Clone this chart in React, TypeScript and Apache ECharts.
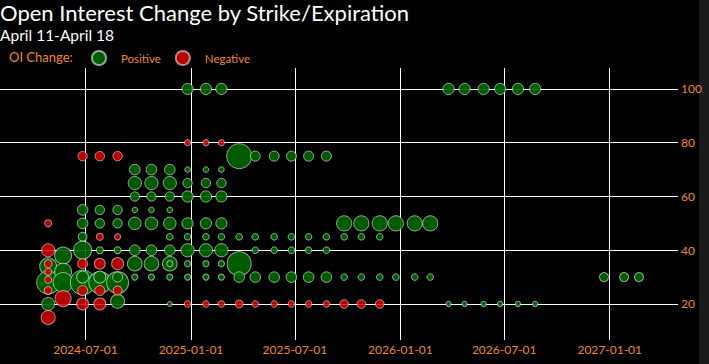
import React, { useEffect, useRef } from 'react';
import * as echarts from 'echarts';

// [expiration, strike, OI change]
const positive: [string, number, number][] = [
  ['2024-04-27', 34, 4600], ['2024-04-27', 28, 8500], ['2024-04-27', 20, 2700],
  ['2024-05-23', 38, 4600], ['2024-05-23', 32, 4600], ['2024-05-23', 28, 6400],
  ['2024-06-26', 55, 1800], ['2024-06-26', 50, 1800], ['2024-06-26', 45, 1300], ['2024-06-26', 40, 5200], ['2024-06-26', 28, 9800], ['2024-06-26', 30, 2300],
  ['2024-07-26', 55, 1400], ['2024-07-26', 50, 1400], ['2024-07-26', 40, 800], ['2024-07-26', 28, 7700], ['2024-07-26', 30, 2300],
  ['2024-08-26', 55, 1400], ['2024-08-26', 50, 1400], ['2024-08-26', 40, 800], ['2024-08-26', 28, 7700], ['2024-08-26', 30, 1600], ['2024-08-26', 21, 3100],
  ['2024-09-25', 70, 1800], ['2024-09-25', 65, 2800], ['2024-09-25', 60, 1400], ['2024-09-25', 55, 500], ['2024-09-25', 50, 2500], ['2024-09-25', 40, 1800], ['2024-09-25', 35, 3400], ['2024-09-25', 30, 600],
  ['2024-10-24', 70, 1800], ['2024-10-24', 65, 2800], ['2024-10-24', 60, 1400], ['2024-10-24', 55, 500], ['2024-10-24', 50, 2500], ['2024-10-24', 40, 1800], ['2024-10-24', 35, 3400], ['2024-10-24', 30, 600],
  ['2024-11-25', 70, 1800], ['2024-11-25', 65, 2800], ['2024-11-25', 60, 1400], ['2024-11-25', 55, 500], ['2024-11-25', 50, 2500], ['2024-11-25', 45, 700], ['2024-11-25', 40, 1800], ['2024-11-25', 35, 3400], ['2024-11-25', 35, 600], ['2024-11-25', 30, 600], ['2024-11-25', 20, 400],
  ['2024-12-26', 100, 2000], ['2024-12-26', 70, 500], ['2024-12-26', 65, 1400], ['2024-12-26', 60, 2000], ['2024-12-26', 50, 2000], ['2024-12-26', 45, 700], ['2024-12-26', 40, 2800], ['2024-12-26', 35, 600], ['2024-12-26', 30, 600],
  ['2025-01-27', 100, 2000], ['2025-01-27', 70, 500], ['2025-01-27', 65, 1400], ['2025-01-27', 60, 2000], ['2025-01-27', 50, 2000], ['2025-01-27', 45, 700], ['2025-01-27', 40, 2800], ['2025-01-27', 35, 600], ['2025-01-27', 30, 600],
  ['2025-02-23', 100, 2000], ['2025-02-23', 70, 500], ['2025-02-23', 65, 1400], ['2025-02-23', 60, 2000], ['2025-02-23', 50, 2000], ['2025-02-23', 45, 700], ['2025-02-23', 40, 2800], ['2025-02-23', 35, 600], ['2025-02-23', 30, 600],
  ['2025-03-26', 75, 10000], ['2025-03-26', 45, 700], ['2025-03-26', 35, 9200], ['2025-03-26', 30, 1800],
  ['2025-04-23', 75, 1600], ['2025-04-23', 45, 700], ['2025-04-23', 40, 700], ['2025-04-23', 30, 1800],
  ['2025-05-26', 75, 1600], ['2025-05-26', 45, 700], ['2025-05-26', 40, 700], ['2025-05-26', 30, 1800],
  ['2025-06-25', 75, 1600], ['2025-06-25', 45, 700], ['2025-06-25', 40, 700], ['2025-06-25', 30, 1800],
  ['2025-07-25', 75, 1600], ['2025-07-25', 45, 700], ['2025-07-25', 40, 700], ['2025-07-25', 30, 1800],
  ['2025-08-25', 75, 1600], ['2025-08-25', 45, 700], ['2025-08-25', 40, 700], ['2025-08-25', 30, 1800],
  ['2025-09-25', 50, 3700], ['2025-09-25', 45, 700], ['2025-09-25', 30, 700],
  ['2025-10-25', 50, 3700], ['2025-10-25', 45, 700], ['2025-10-25', 30, 700],
  ['2025-11-26', 50, 3700], ['2025-11-26', 45, 700], ['2025-11-26', 30, 700],
  ['2025-12-24', 50, 3700], ['2025-12-24', 30, 700],
  ['2026-01-26', 50, 3700], ['2026-01-26', 30, 700],
  ['2026-02-22', 50, 3700], ['2026-02-22', 30, 700],
  ['2026-03-26', 100, 2000], ['2026-03-26', 20, 450],
  ['2026-04-23', 100, 2000], ['2026-04-23', 20, 450],
  ['2026-05-26', 100, 2000], ['2026-05-26', 20, 450],
  ['2026-06-24', 100, 2000], ['2026-06-24', 20, 450],
  ['2026-07-25', 100, 2000], ['2026-07-25', 20, 450],
  ['2026-08-24', 100, 2000], ['2026-08-24', 20, 450],
  ['2026-12-22', 30, 1300], ['2027-01-26', 30, 1300], ['2027-02-21', 30, 1300],
];

const negative: [string, number, number][] = [
  ['2024-04-27', 50, -800], ['2024-04-27', 40, -2700], ['2024-04-27', 35, -1000], ['2024-04-27', 32, -800], ['2024-04-27', 29, -800], ['2024-04-27', 25, -1000], ['2024-04-27', 15, -3100],
  ['2024-05-23', 22, -4100],
  ['2024-06-26', 75, -1400], ['2024-06-26', 35, -1600], ['2024-06-26', 25, -1600], ['2024-06-26', 20, -2300],
  ['2024-07-26', 75, -1400], ['2024-07-26', 45, -800], ['2024-07-26', 35, -1900], ['2024-07-26', 25, -1600], ['2024-07-26', 20, -2300],
  ['2024-08-26', 75, -1400], ['2024-08-26', 45, -600], ['2024-08-26', 35, -2300], ['2024-08-26', 25, -1300],
  ['2024-12-26', 80, -600], ['2024-12-26', 20, -700],
  ['2025-01-27', 80, -600], ['2025-01-27', 20, -700],
  ['2025-02-23', 80, -600], ['2025-02-23', 20, -700],
  ['2025-03-26', 20, -1000],
  ['2025-04-23', 20, -700], ['2025-05-26', 20, -700], ['2025-06-25', 20, -700], ['2025-07-25', 20, -700], ['2025-08-25', 20, -700],
  ['2025-09-25', 20, -1200], ['2025-10-25', 20, -1200], ['2025-11-26', 20, -1200],
];

const legendNames = ['Positive', 'Negative'];
const titleText = 'Open Interest Change by Strike/Expiration';
const subtitleText = 'April 11-April 18';

const ORANGE = '#ee8a2a';
const FONT = 'Lato, "Open Sans", sans-serif';
const DAY = 86400000;

export default function App() {
  const ref = useRef<HTMLDivElement>(null);
  useEffect(() => {
    if (!ref.current) return;
    const chart = echarts.init(ref.current, undefined, { renderer: 'svg' });
    const size = (v: any) => Math.sqrt(Math.abs(v[2])) / 4;
    chart.setOption({
      animation: false,
      backgroundColor: '#000',
      title: {
        text: titleText,
        subtext: subtitleText,
        left: 0,
        top: 1,
        padding: 0,
        itemGap: 4,
        textStyle: { color: '#fff', fontSize: 22, fontWeight: 'normal', fontFamily: FONT },
        subtextStyle: { color: '#fff', fontSize: 15.5, fontFamily: FONT },
      },
      legend: {
        data: legendNames,
        left: 91,
        top: 50,
        padding: 0,
        itemWidth: 14,
        itemHeight: 14,
        itemGap: 14,
        icon: 'circle',
        textStyle: { color: ORANGE, fontSize: 11.5, fontFamily: FONT, padding: [0, 0, 0, 10] },
      },
      graphic: [
        { type: 'text', left: 9, top: 50, style: { text: 'OI Change:', fill: ORANGE, font: `13px ${FONT}` } },
        { type: 'rect', right: 0, top: 0, shape: { width: 10, height: 364 }, style: { fill: '#1a1a1a' }, silent: true },
      ],
      grid: { left: 0, right: 31, top: 68, bottom: 24 },
      xAxis: {
        type: 'time',
        min: '2024-02-03',
        max: '2027-04-30',
        splitNumber: 5,
        minInterval: 178 * DAY,
        maxInterval: 186 * DAY,
        axisLine: { show: false },
        axisTick: { show: false },
        axisLabel: {
          color: ORANGE,
          fontSize: 12,
          fontFamily: FONT,
          margin: 3,
          formatter: '{yyyy}-{MM}-{dd}',
          showMinLabel: false,
          showMaxLabel: false,
        },
        splitLine: { show: true, showMinLine: false, showMaxLine: false, lineStyle: { color: '#fff', width: 1 } },
      },
      yAxis: {
        type: 'value',
        position: 'right',
        min: 6.6,
        max: 107.8,
        minInterval: 20,
        maxInterval: 20,
        axisLine: { show: false },
        axisTick: { show: false },
        axisLabel: {
          color: ORANGE,
          fontSize: 12,
          fontFamily: FONT,
          margin: 3,
          showMinLabel: false,
          showMaxLabel: false,
        },
        splitLine: { show: true, showMinLine: false, showMaxLine: false, lineStyle: { color: '#fff', width: 1 } },
      },
      series: [
        {
          name: 'Positive',
          type: 'scatter',
          data: positive,
          symbolSize: size,
          itemStyle: { color: '#006400', borderColor: 'rgba(225,245,225,0.7)', borderWidth: 1, opacity: 0.9 },
        },
        {
          name: 'Negative',
          type: 'scatter',
          data: negative,
          symbolSize: size,
          itemStyle: { color: '#d40000', borderColor: 'rgba(255,225,225,0.7)', borderWidth: 1, opacity: 0.85 },
        },
      ],
    });
    return () => chart.dispose();
  }, []);
  return (
    <div
      ref={ref}
      style={{ position: 'fixed', left: 0, top: 0, width: 709, height: 364, background: '#000' }}
    />
  );
}
